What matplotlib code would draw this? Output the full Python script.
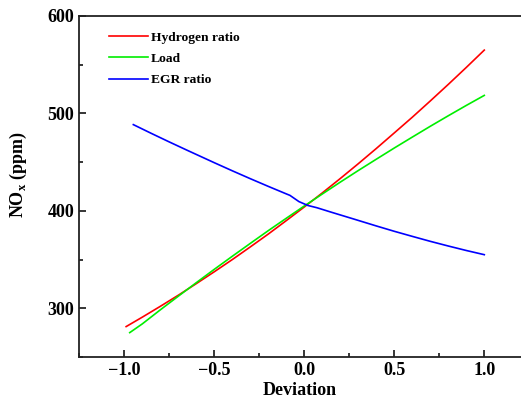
import numpy as np
import matplotlib.pyplot as plt
from matplotlib.ticker import MultipleLocator

plt.rcParams['font.family'] = ['Liberation Serif', 'DejaVu Serif']
plt.rcParams['font.weight'] = 'bold'
plt.rcParams['mathtext.fontset'] = 'custom'
plt.rcParams['mathtext.rm'] = 'Liberation Serif:bold'
plt.rcParams['mathtext.bf'] = 'Liberation Serif:bold'

# values
x_h2 = [-0.99, -0.9, -0.8, -0.7, -0.6, -0.5, -0.4, -0.3, -0.2, -0.1, 0.0,
        0.1, 0.2, 0.3, 0.4, 0.5, 0.6, 0.7, 0.8, 0.9, 1.0]
y_h2 = [281.2, 290.9, 302.0, 313.4, 325.3, 337.5, 350.0, 363.0, 376.2, 390.0, 404.0,
        418.4, 433.2, 448.4, 464.0, 480.0, 496.1, 512.8, 529.8, 547.2, 565.0]

x_load = [-0.97, -0.9, -0.8, -0.7, -0.6, -0.5, -0.4, -0.3, -0.2, -0.1, 0.0,
          0.1, 0.2, 0.3, 0.4, 0.5, 0.6, 0.7, 0.8, 0.9, 1.0]
y_load = [275.0, 284.0, 298.4, 312.4, 326.3, 340.0, 353.4, 366.6, 379.7, 392.4, 405.0,
          417.3, 429.5, 441.4, 453.0, 464.5, 475.7, 486.8, 497.6, 508.2, 518.5]

x_egr = [-0.95, -0.85, -0.75, -0.65, -0.5, -0.4, -0.3, -0.2, -0.1, -0.08, -0.03,
         0.02, 0.07, 0.15, 0.28, 0.4, 0.5, 0.6, 0.7, 0.8, 0.9, 1.0]
y_egr = [488.5, 479.5, 470.7, 462.1, 449.4, 441.1, 433.0, 425.1, 417.4, 415.9, 409.5,
         405.5, 403.2, 398.6, 391.3, 384.5, 379.0, 373.8, 368.7, 363.9, 359.3, 355.0]

fig = plt.figure(figsize=(5.21, 4.07), dpi=100)
ax = fig.add_axes([0.1516, 0.1229, 0.8484, 0.8378])

ax.plot(x_h2, y_h2, color='#ff0000', lw=1.2, label='Hydrogen ratio')
ax.plot(x_load, y_load, color='#00ee00', lw=1.2, label='Load')
ax.plot(x_egr, y_egr, color='#0000ff', lw=1.2, label='EGR ratio')

ax.set_xlim(-1.252, 1.204)
ax.set_ylim(250, 600)
ax.xaxis.set_major_locator(MultipleLocator(0.5))
ax.xaxis.set_minor_locator(MultipleLocator(0.25))
ax.yaxis.set_major_locator(MultipleLocator(100))
ax.yaxis.set_minor_locator(MultipleLocator(50))
ax.tick_params(which='major', direction='in', length=5, width=1.1, labelsize=13)
ax.tick_params(which='minor', direction='in', length=3, width=1.1)
ax.spines['right'].set_visible(False)
for s in ['left', 'bottom', 'top']:
    ax.spines[s].set_linewidth(1.3)
    ax.spines[s].set_color('#222222')

ax.set_xlabel('Deviation', fontsize=13, fontweight='bold', labelpad=2)
ax.set_ylabel(r'NO$_\mathbf{x}$ (ppm)', fontsize=13, fontweight='bold')
ax.yaxis.set_label_coords(-0.113, 0.534)

ax.legend(loc='upper left', frameon=False, fontsize=9.7, handlelength=2.9,
          handletextpad=0.25, bbox_to_anchor=(0.04, 0.99), labelspacing=0.65)

plt.savefig('out.png', dpi=100)
